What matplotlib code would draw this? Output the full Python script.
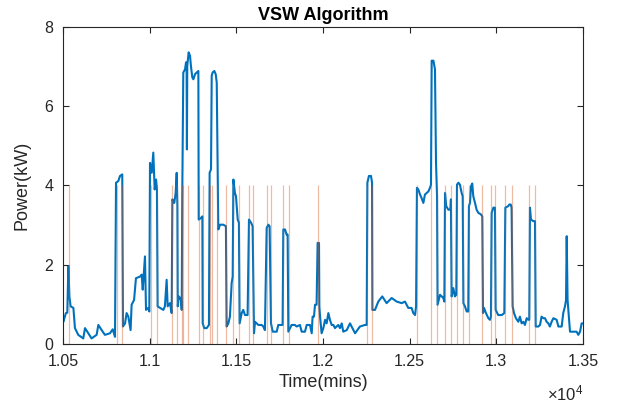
import matplotlib

matplotlib.use("Agg")
import matplotlib.pyplot as plt
from matplotlib.ticker import FixedLocator, FuncFormatter

plt.rcParams["font.family"] = ["Liberation Sans", "DejaVu Sans"]
plt.rcParams["mathtext.fontset"] = "custom"
plt.rcParams["mathtext.rm"] = "Liberation Sans"

# power trace (minutes, kW)
t_min = [
    10500, 10502, 10517, 10525, 10531, 10537, 10544, 10560, 10569, 10588,
    10617, 10627, 10646, 10665, 10694, 10704, 10723, 10742, 10771, 10787,
    10800, 10806, 10819, 10829, 10842, 10846, 10858, 10867, 10877, 10890,
    10896, 10910, 10921, 10944, 10954, 10960, 10973, 10979, 10992, 10998,
    11002, 11012, 11021, 11029, 11037, 11042, 11046, 11060, 11079, 11088,
    11098, 11104, 11117, 11127, 11131, 11142, 11150, 11156, 11160, 11162,
    11169, 11181, 11185, 11188, 11194, 11204, 11210, 11213, 11215, 11217,
    11225, 11233, 11238, 11246, 11252, 11262, 11271, 11281, 11283, 11296,
    11304, 11306, 11315, 11329, 11342, 11346, 11354, 11358, 11363, 11373,
    11381, 11387, 11396, 11406, 11425, 11440, 11444, 11454, 11463, 11473,
    11479, 11483, 11492, 11498, 11508, 11515, 11519, 11531, 11540, 11550,
    11565, 11573, 11585, 11594, 11602, 11608, 11627, 11646, 11656, 11665,
    11675, 11685, 11692, 11700, 11710, 11733, 11742, 11767, 11771, 11781,
    11790, 11796, 11800, 11810, 11819, 11838, 11848, 11867, 11877, 11896,
    11906, 11925, 11935, 11940, 11948, 11954, 11963, 11969, 11977, 11979,
    11983, 11992, 12002, 12012, 12021, 12031, 12040, 12050, 12060, 12069,
    12088, 12098, 12108, 12117, 12137, 12156, 12165, 12185, 12198, 12213,
    12242, 12252, 12256, 12265, 12277, 12283, 12285, 12300, 12319, 12342,
    12367, 12396, 12425, 12454, 12473, 12492, 12511, 12521, 12531, 12537,
    12542, 12550, 12560, 12569, 12579, 12588, 12598, 12608, 12617, 12623,
    12627, 12637, 12646, 12652, 12658, 12661, 12675, 12685, 12694, 12700,
    12704, 12711, 12723, 12735, 12738, 12742, 12752, 12761, 12769, 12773,
    12781, 12790, 12800, 12806, 12810, 12819, 12829, 12838, 12842, 12848,
    12854, 12861, 12867, 12877, 12886, 12896, 12911, 12919, 12923, 12929,
    12940, 12954, 12963, 12969, 12973, 12983, 12992, 12996, 13011, 13031,
    13046, 13052, 13069, 13075, 13083, 13088, 13094, 13102, 13113, 13127,
    13136, 13146, 13156, 13165, 13175, 13185, 13190, 13194, 13200, 13213,
    13223, 13227, 13242, 13252, 13261, 13271, 13281, 13290, 13300, 13309,
    13319, 13329, 13348, 13358, 13377, 13386, 13396, 13402, 13406, 13411,
    13417, 13425, 13463, 13473, 13483, 13492, 13500,
]
p_kw = [
    0.60, 0.56, 0.78, 0.79, 1.96, 1.20, 0.95, 0.91, 0.40, 0.23,
    0.14, 0.40, 0.27, 0.14, 0.23, 0.48, 0.35, 0.23, 0.27, 0.37,
    0.18, 4.07, 4.11, 4.24, 4.28, 0.44, 0.52, 0.78, 0.69, 0.35,
    0.99, 1.11, 1.66, 1.70, 1.75, 1.37, 2.21, 0.86, 0.91, 0.82,
    4.57, 4.32, 4.83, 3.90, 4.15, 3.90, 0.95, 0.91, 0.86, 0.95,
    1.62, 0.95, 1.03, 0.78, 3.65, 3.56, 3.81, 4.32, 3.48, 0.95,
    1.20, 1.11, 0.86, 3.65, 6.85, 6.93, 7.11, 7.02, 4.91, 7.02,
    7.36, 7.27, 7.02, 6.73, 6.68, 6.81, 6.85, 6.89, 3.14, 3.18,
    3.22, 0.52, 0.40, 0.40, 0.48, 4.32, 4.41, 6.77, 6.85, 6.89,
    6.81, 6.60, 2.89, 3.01, 3.01, 2.97, 0.44, 0.52, 0.69, 1.54,
    1.70, 4.15, 3.81, 3.73, 3.14, 3.06, 0.52, 0.78, 0.86, 0.73,
    0.73, 3.14, 3.06, 2.97, 0.27, 0.56, 0.48, 0.48, 0.44, 0.35,
    2.93, 3.01, 2.97, 0.52, 0.31, 0.31, 0.48, 0.48, 2.89, 2.89,
    2.76, 2.76, 0.31, 0.40, 0.48, 0.48, 0.44, 0.48, 0.31, 0.31,
    0.48, 0.48, 0.27, 0.69, 0.69, 0.99, 0.99, 2.55, 2.55, 0.95,
    0.69, 0.27, 0.40, 0.61, 0.52, 0.78, 0.61, 0.48, 0.48, 0.40,
    0.48, 0.40, 0.52, 0.31, 0.35, 0.52, 0.44, 0.27, 0.35, 0.44,
    0.48, 0.48, 4.07, 4.24, 4.24, 4.07, 0.86, 0.86, 1.07, 1.20,
    1.03, 1.16, 1.07, 1.03, 1.07, 0.91, 0.91, 0.78, 0.73, 0.95,
    3.94, 3.90, 3.77, 3.68, 3.56, 3.77, 3.81, 3.85, 3.94, 4.02,
    7.15, 7.15, 6.93, 4.57, 3.73, 0.99, 1.24, 1.20, 1.16, 1.07,
    3.81, 3.48, 3.39, 3.39, 3.65, 1.20, 1.41, 1.20, 1.24, 4.02,
    4.07, 4.02, 3.81, 3.73, 1.03, 0.95, 0.82, 0.82, 3.48, 3.56,
    3.98, 4.05, 3.73, 3.56, 3.39, 3.31, 3.27, 3.22, 0.78, 0.91,
    0.78, 0.65, 0.61, 0.69, 3.31, 3.44, 3.44, 0.86, 0.73, 0.73,
    0.78, 3.44, 3.48, 3.52, 3.52, 3.44, 0.95, 0.78, 0.65, 0.56,
    0.69, 0.52, 0.56, 0.48, 0.65, 0.61, 0.61, 3.44, 3.14, 3.10,
    3.10, 0.44, 0.44, 0.48, 0.69, 0.65, 0.65, 0.56, 0.52, 0.44,
    0.56, 0.65, 0.61, 0.44, 0.44, 0.78, 0.95, 1.11, 2.72, 1.11,
    0.78, 0.31, 0.31, 0.23, 0.31, 0.52, 0.52,
]

# switching instants marked by the algorithm (minutes)
switch_t = [
    10536, 10810, 10842, 11006, 11044, 11131, 11159, 11187, 11194, 11219,
    11283, 11306, 11346, 11360, 11388, 11442, 11482, 11517, 11575, 11598,
    11679, 11698, 11771, 11802, 11973, 12256, 12284, 12544, 12625, 12659,
    12705, 12740, 12771, 12806, 12840, 12919, 12971, 12994, 13052, 13092,
    13190, 13225,
]
switch_h = 4

x_ticks = [10500, 11000, 11500, 12000, 12500, 13000, 13500]
y_ticks = [0, 2, 4, 6, 8]

txt = "#262626"

fig = plt.figure(figsize=(6.23, 4.09), dpi=100)
ax = fig.add_axes([0.1011, 0.159, 0.8347, 0.775])

ax.plot(t_min, p_kw, color="#0072BD", lw=1.5, zorder=2)
ax.vlines(switch_t, 0, switch_h, color="#D95319", alpha=0.4, lw=0.9, zorder=3)

ax.set_xlim(10500, 13500)
ax.set_ylim(0, 8)
ax.xaxis.set_major_locator(FixedLocator(x_ticks))
ax.yaxis.set_major_locator(FixedLocator(y_ticks))
ax.xaxis.set_major_formatter(FuncFormatter(lambda v, p: f"{v / 1e4:g}"))
ax.yaxis.set_major_formatter(FuncFormatter(lambda v, p: f"{v:g}"))

ax.tick_params(direction="in", length=4.5, width=0.8, colors=txt,
               labelsize=11.5, top=True, right=True, pad=7)
for s in ax.spines.values():
    s.set_color(txt)
    s.set_linewidth(0.8)

ax.set_title("VSW Algorithm", fontsize=13, fontweight="bold", color="black", pad=5)
ax.set_xlabel("Time(mins)", fontsize=13, color=txt, labelpad=4)
ax.set_ylabel("Power(kW)", fontsize=13, color=txt, labelpad=10)
ax.text(1.0, -0.155, r"$\mathregular{\times10^4}$", transform=ax.transAxes,
        ha="right", va="center", fontsize=12, color=txt)

fig.savefig("out.png", dpi=100)
